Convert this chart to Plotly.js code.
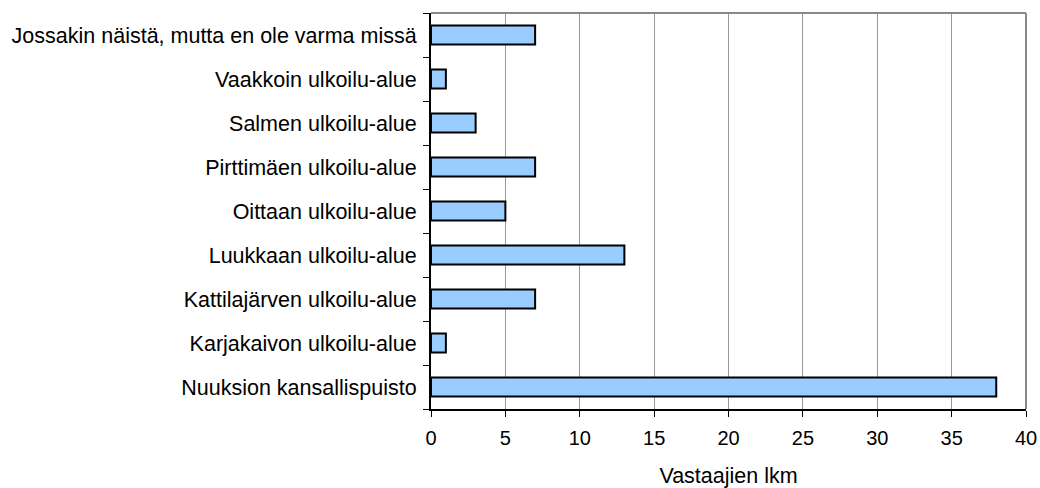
<!DOCTYPE html>
<html>
<head>
<meta charset="utf-8">
<script src="https://cdn.plot.ly/plotly-3.0.1.min.js"></script>
<style>html,body{margin:0;padding:0;background:#fff;}#chart{width:1040px;height:488px;}</style>
</head>
<body>
<div id="chart"></div>
<script>
const categories = [
  "Nuuksion kansallispuisto",
  "Karjakaivon ulkoilu-alue",
  "Kattilajärven ulkoilu-alue",
  "Luukkaan ulkoilu-alue",
  "Oittaan ulkoilu-alue",
  "Pirttimäen ulkoilu-alue",
  "Salmen ulkoilu-alue",
  "Vaakkoin ulkoilu-alue",
  "Jossakin näistä, mutta en ole varma missä"
];
const counts = [38, 1, 7, 13, 5, 7, 3, 1, 7];
const xTickVals = [0, 5, 10, 15, 20, 25, 30, 35, 40];
const xTitle = "Vastaajien lkm";

const trace = {
  type: "bar",
  orientation: "h",
  y: categories,
  x: counts,
  marker: {color: "#99CCFF", line: {color: "#000000", width: 2}},
  hoverinfo: "x+y"
};

const layout = {
  width: 1040, height: 488,
  margin: {l: 431, r: 14, t: 13, b: 79},
  paper_bgcolor: "#ffffff",
  plot_bgcolor: "#ffffff",
  font: {family: "Liberation Sans, Arial, sans-serif", size: 21.5, color: "#000000"},
  showlegend: false,
  bargap: 0.57,
  xaxis: {
    range: [0, 40],
    tickvals: xTickVals,
    ticktext: xTickVals.map(String),
    showgrid: true, gridcolor: "#999999", gridwidth: 1,
    zeroline: false,
    showline: true, linecolor: "#000000", linewidth: 2,
    ticks: "outside", ticklen: 6, tickcolor: "#000000", tickwidth: 1,
    tickfont: {size: 20},
    ticklabelstandoff: 4,
    title: {text: xTitle, font: {size: 21.5}, standoff: 20},
    fixedrange: true
  },
  yaxis: {
    type: "category",
    categoryorder: "array",
    categoryarray: categories,
    tickson: "boundaries",
    ticks: "outside", ticklen: 6, tickcolor: "#000000", tickwidth: 1,
    showline: true, linecolor: "#000000", linewidth: 2,
    showgrid: false, zeroline: false,
    tickfont: {size: 21.5},
    ticklabelstandoff: 8,
    fixedrange: true
  },
  shapes: [
    {type: "line", xref: "paper", yref: "paper", x0: 0, x1: 1, y0: 1, y1: 1, line: {color: "#888888", width: 2}},
    {type: "line", xref: "paper", yref: "paper", x0: 1, x1: 1, y0: 0, y1: 1, line: {color: "#888888", width: 2}}
  ]
};

Plotly.newPlot("chart", [trace], layout, {displayModeBar: false, staticPlot: true});
</script>
</body>
</html>
